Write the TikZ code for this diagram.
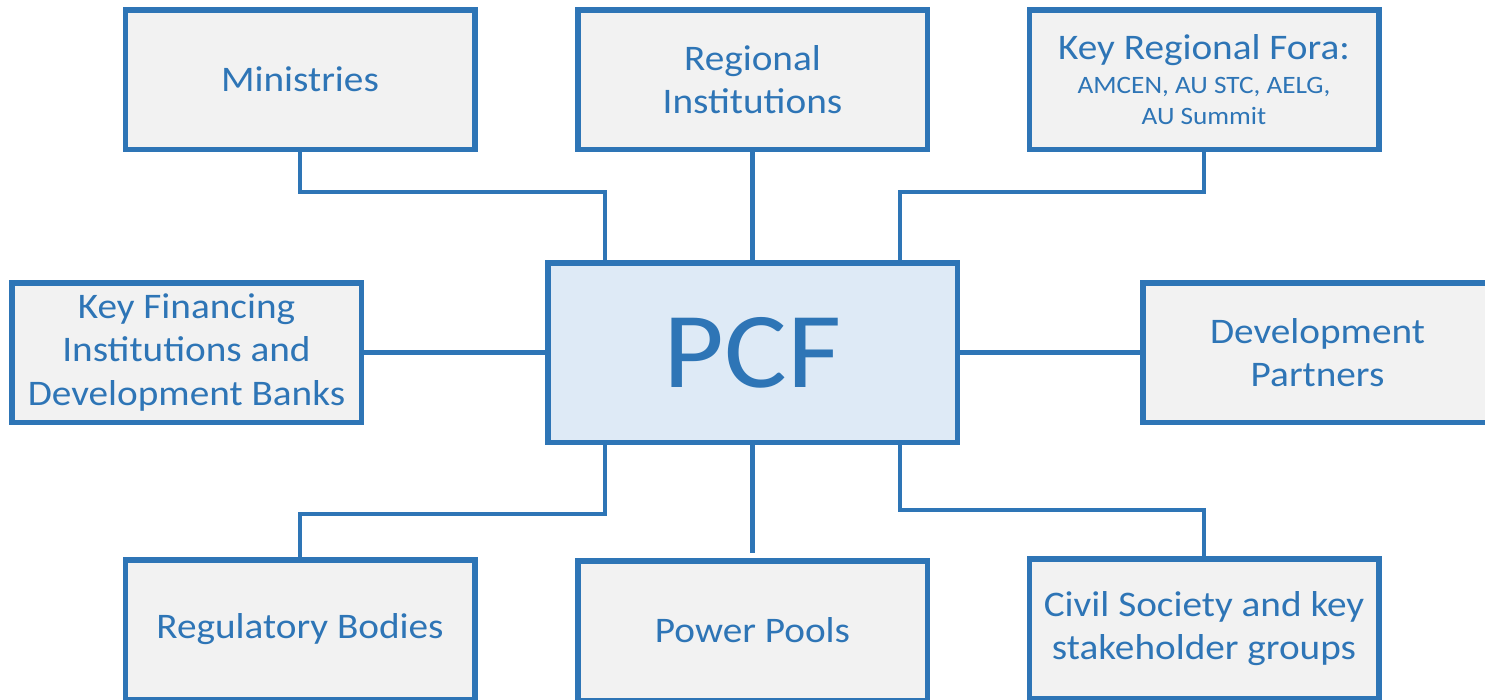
\documentclass[tikz,border=0pt]{standalone}
\usepackage{fontspec}
\setmainfont{Carlito}[FakeStretch=1.09]
\definecolor{pblue}{RGB}{46,117,182}
\definecolor{pgray}{RGB}{242,242,242}
\definecolor{plight}{RGB}{222,234,246}
\begin{document}
\begin{tikzpicture}[x=1pt,y=-1pt,
  box/.style={draw=pblue, line width=5.5pt, fill=pgray, minimum width=349.5pt, minimum height=139.5pt,
    inner sep=0pt, align=center, text=pblue, font=\fontsize{36}{43.5}\selectfont},
  hub/.style={box, fill=plight, minimum width=409.5pt, minimum height=179.5pt, font=\fontsize{108}{120}\selectfont},
  link/.style={draw=pblue, line width=4.7pt}]
\useasboundingbox (0,0) rectangle (1485,699);
\node[hub] (pcf) at (752.5,352.5) {PCF};
\node[box] (min) at (300,79.5) {Ministries};
\node[box] (reg) at (752.5,79.5) {Regional\\Institutions};
\node[box, font=\fontsize{25}{31}\selectfont] (fora) at (1204,79.5)
  {{\fontsize{36}{36}\selectfont Key Regional Fora:}\\[3pt]AMCEN, AU STC, AELG,\\AU Summit};
\node[box] (fin) at (186.5,352.5) {Key Financing\\Institutions and\\Development Banks};
\node[box] (dev) at (1317.5,352.5) {Development\\Partners};
\node[box] (regb) at (300,629.5) {Regulatory Bodies};
\node[box] (pp) at (752.5,630.5) {Power Pools};
\node[box] (cs) at (1204,628.5) {Civil Society and key\\stakeholder groups};
\draw[link] (min.south) -- ++(0,40) -| ([xshift=-147.5pt]pcf.north);
\draw[link] (reg.south) -- (pcf.north);
\draw[link] (fora.south) -- ++(0,40) -| ([xshift=147.5pt]pcf.north);
\draw[link] (fin.east) -- (pcf.west);
\draw[link] (pcf.east) -- (dev.west);
\draw[link] ([xshift=-147.5pt]pcf.south) -- ++(0,69) -| (regb.north);
\draw[link] (pcf.south) -- ([yshift=5pt]pp.north);
\draw[link] ([xshift=147.5pt]pcf.south) -- ++(0,65) -| (cs.north);
\end{tikzpicture}
\end{document}
